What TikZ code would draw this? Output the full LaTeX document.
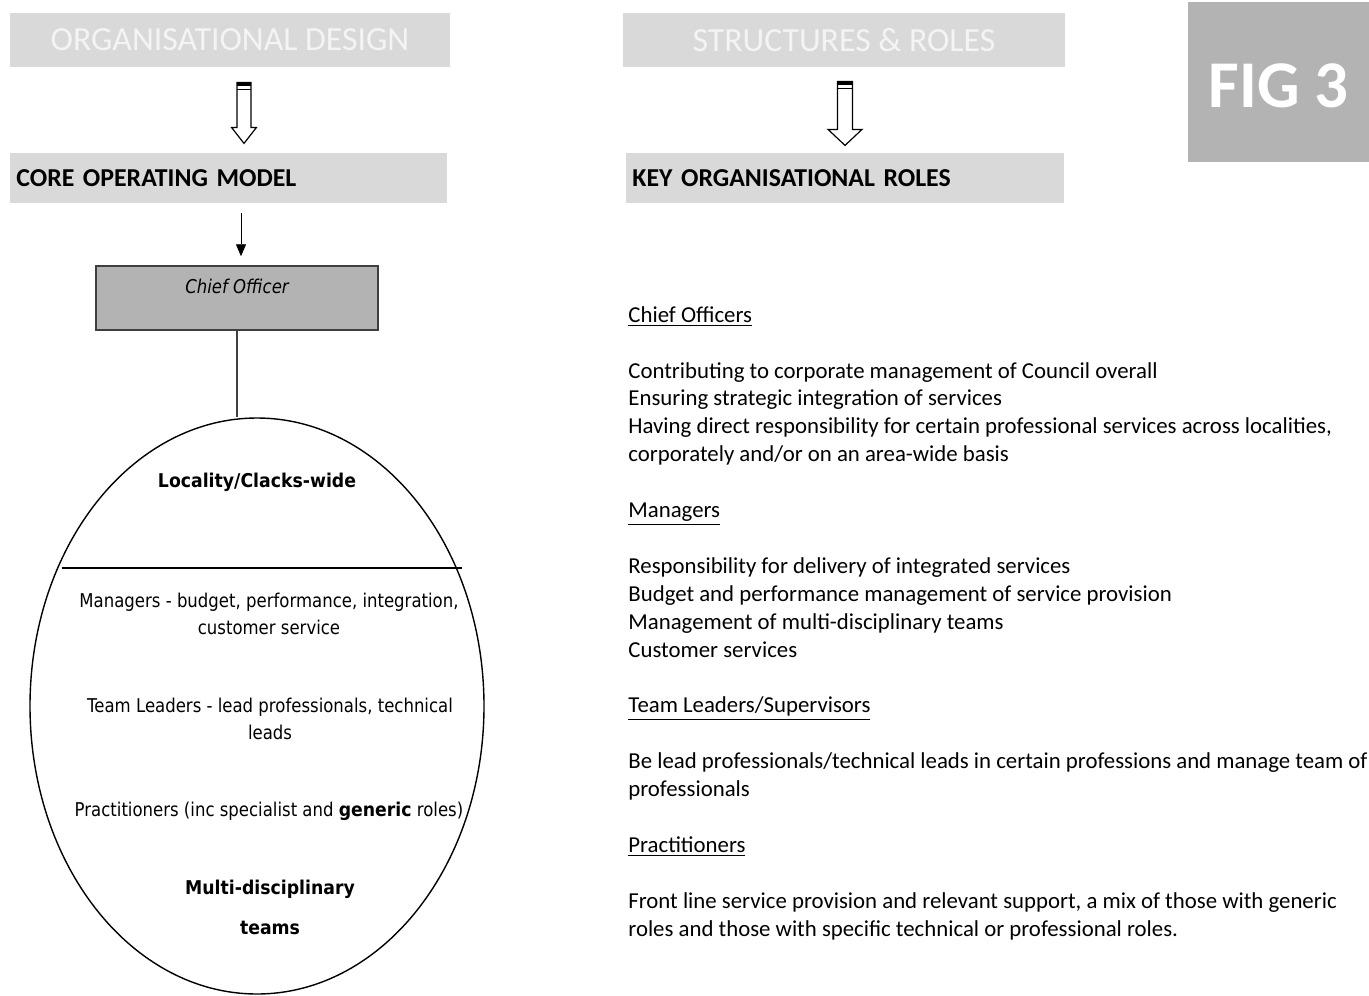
\documentclass[tikz,border=0pt]{standalone}
\usepackage{fontspec}
\setmainfont{Carlito}
\newfontfamily\tahoma[FakeStretch=0.87, BoldFeatures={FakeStretch=0.91}]{DejaVu Sans}
\usetikzlibrary{positioning,calc,shapes.geometric,arrows.meta}

\definecolor{boxgrey}{HTML}{D9D9D9}
\definecolor{headwhite}{HTML}{F4F4F4}
\definecolor{figgrey}{HTML}{B3B3B3}
\definecolor{edgegrey}{HTML}{3F3F3F}

% hollow block arrow: top centre, stem half width, head half width, head start, length
\newcommand{\blockarrow}[5]{%
  \begin{scope}[shift={#1}]
    \draw[line width=0.6pt] (-#2,0) -- (-#2,#4) -- (-#3,#4) -- (0,#5) -- (#3,#4) -- (#2,#4) -- (#2,0) -- cycle;
    \fill (-#2,0) rectangle (#2,4);
    \draw[line width=0.6pt] (-#2,7) -- (#2,7);
  \end{scope}}

\begin{document}
\begin{tikzpicture}[x=0.5pt, y=-0.5pt,
    headbox/.style = {fill=boxgrey, minimum height=27pt, inner sep=0pt, text=headwhite,
                      font=\fontsize{16.9pt}{18pt}\selectfont},
    titlebox/.style = {fill=boxgrey, minimum height=25pt, inner xsep=3pt, inner ysep=0pt,
                       align=left, anchor=west, font=\bfseries\fontsize{12.9pt}{14pt}\selectfont},
    chiefbox/.style = {draw=edgegrey, line width=0.75pt, fill=figgrey, minimum width=141pt, minimum height=32pt},
    teamtext/.style = {align=center, inner sep=0pt, font=\tahoma\fontsize{9.5pt}{13.5pt}\selectfont},
    roletext/.style = {align=left, inner sep=0pt, anchor=north west, font=\fontsize{11.4pt}{13.95pt}\selectfont}]
  \path[fill=white, use as bounding box] (0,0) rectangle (1369,995);

  % left column
  \node[headbox, minimum width=220pt] (design) at (230,40) {\raisebox{-0.7pt}{ORGANISATIONAL DESIGN}};
  \node[titlebox, text width=212.5pt] (core) at (10,178) {CORE OPERATING MODEL};
  \blockarrow{($(design.south)+(14,15)$)}{7}{12.5}{45}{61}

  \node[chiefbox, label={[anchor=north, inner sep=0pt, yshift=-6.5pt, font=\tahoma\itshape\fontsize{9.5pt}{11pt}\selectfont]north:Chief Officer}] (chief) at (237,298) {};
  \coordinate (arrowtop) at (241,213);
  \draw[-{Triangle[length=6pt, width=5pt]}, shorten >=4.5pt] (arrowtop) -- (arrowtop |- chief.north);

  \node[ellipse, draw, line width=0.7pt, minimum width=227pt, minimum height=288pt] (team) at (257,706) {};
  \draw[line width=0.7pt, edgegrey] (chief.south) -- (chief.south |- team.north);
  \draw[line width=0.6pt] (62,568) -- (462,568);

  \node[teamtext, font=\tahoma\bfseries\fontsize{9.5pt}{13.5pt}\selectfont] (locality) at (257,482) {Locality/Clacks-wide};
  \node[teamtext] (managers) at (269,614) {Managers - budget, performance, integration,\\customer service};
  \node[teamtext] (leaders) at (270,719) {Team Leaders - lead professionals, technical\\leads};
  \node[teamtext] (practitioners) at (269,811) {Practitioners (inc specialist and \textbf{generic} roles)};
  \node[teamtext, font=\tahoma\bfseries\fontsize{9.5pt}{13.5pt}\selectfont] (multi) at (270,907) {Multi-disciplinary\\[6.5pt]teams};

  % right column
  \node[headbox, minimum width=221pt] (structures) at (844,40) {\raisebox{-0.7pt}{STRUCTURES \& ROLES}};
  \node[titlebox, text width=213pt] (keyroles) at (626,178) {KEY ORGANISATIONAL ROLES};
  \blockarrow{($(structures.south)+(1,14)$)}{7.5}{17}{48}{64}

  \node[fill=figgrey, minimum width=90.5pt, minimum height=80pt, text=white,
        font=\bfseries\fontsize{33.4pt}{36pt}\selectfont] (fig) at (1278.5,82) {\raisebox{-13pt}[0pt][0pt]{FIG 3}};

  \node[roletext] (roles) at (628,306) {\underline{Chief Officers}\\[13.95pt]
    Contributing to corporate management of Council overall\\
    Ensuring strategic integration of services\\
    Having direct responsibility for certain professional services across localities,\\
    corporately and/or on an area-wide basis\\[13.95pt]
    \underline{Managers}\\[13.95pt]
    Responsibility for delivery of integrated services\\
    Budget and performance management of service provision\\
    Management of multi-disciplinary teams\\
    Customer services\\[13.95pt]
    \underline{Team Leaders/Supervisors}\\[13.95pt]
    Be lead professionals/technical leads in certain professions and manage team of\\
    professionals\\[13.95pt]
    \underline{Practitioners}\\[13.95pt]
    Front line service provision and relevant support, a mix of those with generic\\
    roles and those with specific technical or professional roles.};
\end{tikzpicture}
\end{document}
